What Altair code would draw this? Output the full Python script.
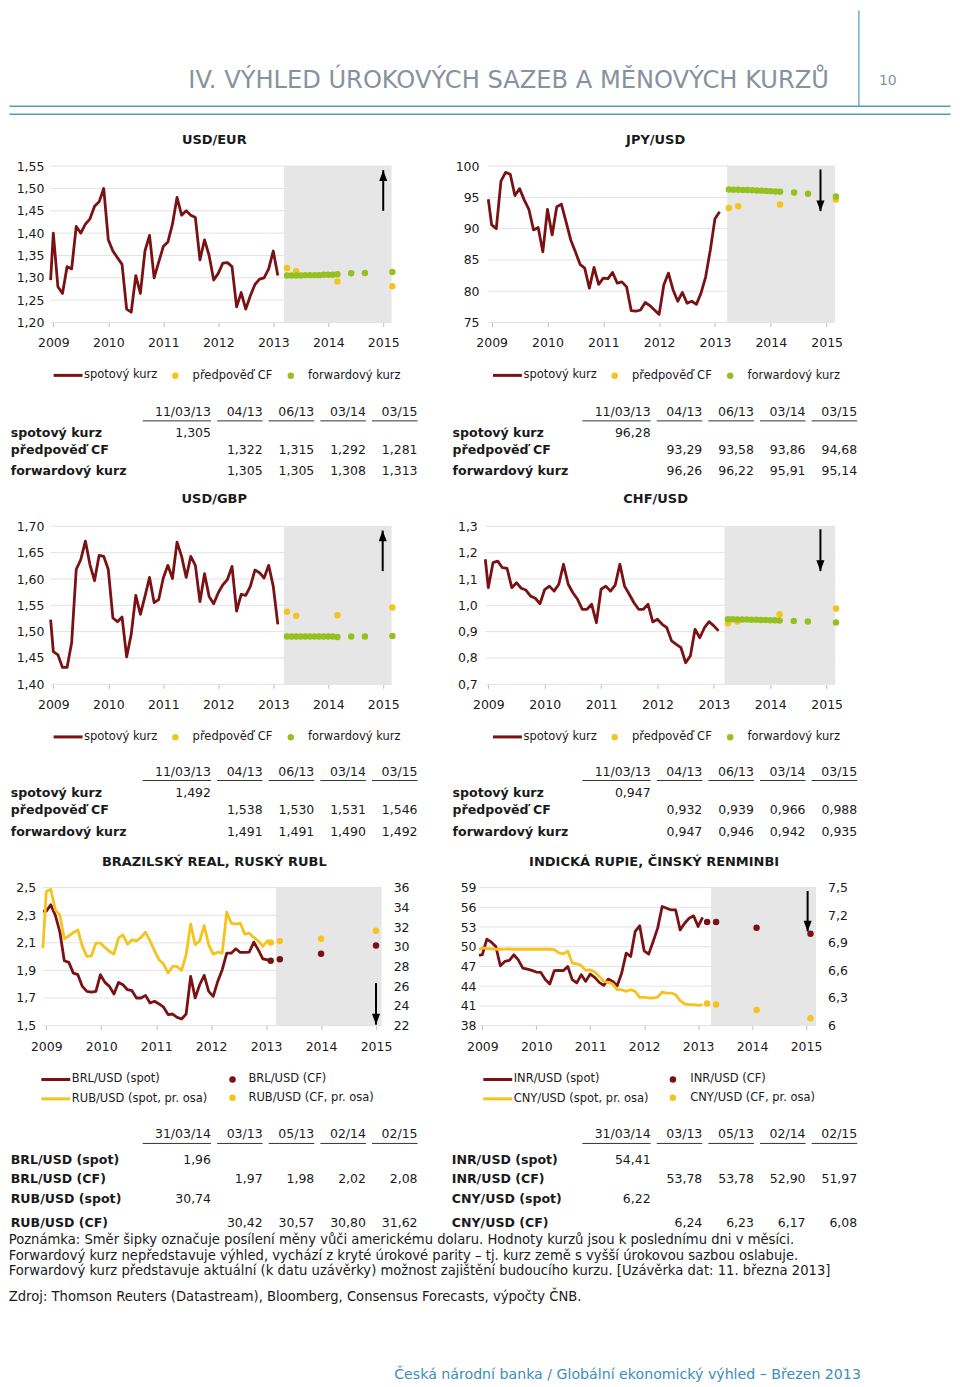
import altair as alt
import numpy as np
import pandas as pd

FONT = "DejaVu Sans"
RED, YEL, GRN = "#7a1214", "#f5c31c", "#94c11f"
BG, GRIDC, TICKC = "#e6e6e6", "#e2e2e2", "#bdbdbd"
TEAL, HEADC, INK = "#4f9bc4", "#86929e", "#1a1a1a"

YEARS = [2009, 2010, 2011, 2012, 2013, 2014, 2015]

# ---------------- data ----------------
EUR_SPOT = [1.295,
            1.40, 1.28, 1.265, 1.325, 1.32, 1.415, 1.40, 1.42, 1.432, 1.46, 1.47, 1.50,
            1.385, 1.36, 1.345, 1.33, 1.23, 1.223, 1.305, 1.265, 1.36, 1.395, 1.30, 1.335,
            1.37, 1.38, 1.42, 1.48, 1.44, 1.45, 1.44, 1.435, 1.34, 1.385, 1.35, 1.295,
            1.31, 1.333, 1.334, 1.325, 1.235, 1.267, 1.23, 1.26, 1.285, 1.297, 1.30, 1.32,
            1.36, 1.305]
EUR_CF = [1.322, 1.315, 1.292, 1.281]
EUR_FWD = [1.305, 1.305, 1.305, 1.305, 1.306, 1.306, 1.306, 1.306, 1.307, 1.307, 1.307, 1.308,
           1.310, 1.311, 1.313]
EUR_NOW = 1.305

JPY_SPOT = [94.7,
            90.6, 90.0, 97.6, 99.0, 98.7, 95.3, 96.4, 94.6, 93.1, 89.8, 90.2, 86.3,
            93.1, 89.0, 93.5, 93.9, 91.1, 88.2, 86.3, 84.3, 83.7, 80.5, 83.8, 81.1,
            82.1, 82.0, 83.0, 81.3, 81.5, 80.7, 76.9, 76.8, 77.0, 78.2, 77.7, 77.0,
            76.3, 81.0, 82.9, 80.2, 78.4, 79.8, 78.1, 78.4, 77.9, 79.7, 82.3, 86.6,
            91.6, 92.7]
JPY_CF = [93.29, 93.58, 93.86, 94.68]
JPY_FWD = [96.26, 96.24, 96.22, 96.20, 96.17, 96.14, 96.11, 96.08, 96.04, 96.00, 95.95, 95.91,
           95.80, 95.60, 95.14]
JPY_NOW = 96.28

GBP_SPOT = [1.523,
            1.462, 1.456, 1.432, 1.432, 1.479, 1.618, 1.637, 1.672, 1.627, 1.597, 1.645, 1.643,
            1.618, 1.526, 1.519, 1.528, 1.452, 1.495, 1.569, 1.533, 1.567, 1.603, 1.555, 1.561,
            1.602, 1.626, 1.601, 1.670, 1.643, 1.603, 1.643, 1.626, 1.557, 1.610, 1.567, 1.553,
            1.574, 1.589, 1.599, 1.624, 1.539, 1.571, 1.569, 1.586, 1.617, 1.612, 1.602, 1.626,
            1.586, 1.514]
GBP_CF = [1.538, 1.530, 1.531, 1.546]
GBP_FWD = [1.491, 1.491, 1.491, 1.491, 1.491, 1.491, 1.491, 1.491, 1.491, 1.491, 1.491, 1.490,
           1.491, 1.491, 1.492]
GBP_NOW = 1.492

CHF_SPOT = [1.175,
            1.067, 1.162, 1.168, 1.143, 1.140, 1.067, 1.086, 1.065, 1.058, 1.035, 1.027, 1.006,
            1.060, 1.073, 1.054, 1.080, 1.156, 1.080, 1.048, 1.023, 0.985, 0.985, 1.004, 0.934,
            1.061, 1.073, 1.054, 1.077, 1.156, 1.073, 1.042, 1.010, 0.985, 0.985, 1.004, 0.937,
            0.947, 0.928, 0.915, 0.865, 0.852, 0.839, 0.782, 0.808, 0.909, 0.877, 0.915, 0.938,
            0.922, 0.903]
CHF_CF = [0.932, 0.939, 0.966, 0.988]
CHF_FWD = [0.947, 0.947, 0.946, 0.946, 0.946, 0.945, 0.945, 0.944, 0.944, 0.943, 0.943, 0.942,
           0.941, 0.939, 0.935]
CHF_NOW = 0.947

BRL_SPOT = [2.33, 2.33, 2.375, 2.30, 2.18, 1.97, 1.958, 1.88, 1.869, 1.784, 1.748, 1.743, 1.748,
            1.869, 1.813, 1.784, 1.729, 1.813, 1.796, 1.76, 1.753, 1.70, 1.70, 1.719, 1.664,
            1.676, 1.657, 1.633, 1.580, 1.584, 1.560, 1.548, 1.584, 1.857, 1.70, 1.796, 1.864,
            1.748, 1.712, 1.820, 1.905, 2.025, 2.025, 2.057, 2.030, 2.030, 2.033, 2.105, 2.049,
            1.984, 1.977, 1.965]
RUB_SPOT = [29.86, 35.6, 35.83, 33.74, 33.23, 30.8, 31.1, 31.44, 31.71, 30.03, 29.02, 29.08, 30.37,
            30.37, 29.93, 29.52, 29.25, 30.87, 31.2, 30.26, 30.7, 30.6, 30.94, 31.48, 30.6,
            29.59, 28.68, 28.24, 27.33, 28.0, 28.0, 27.6, 29.19, 32.29, 30.2, 30.6, 32.15,
            30.2, 29.25, 29.45, 29.35, 33.5, 32.39, 32.29, 32.39, 31.28, 31.38, 30.94, 30.6,
            30.03, 30.6, 30.53]
BRL_CF = [1.97, 1.98, 2.02, 2.08]
RUB_CF = [30.42, 30.57, 30.80, 31.62]
BRL_NOW, RUB_NOW = 1.96, 30.74

INR_SPOT = [48.7, 48.8, 51.16, 50.7, 50.04, 47.1, 47.77, 47.92, 48.78, 48.0, 46.75, 46.6, 46.4,
            46.15, 46.1, 45.0, 44.32, 46.35, 46.4, 46.35, 47.0, 45.0, 44.5, 45.74, 44.73,
            45.84, 45.33, 44.58, 44.12, 45.08, 44.73, 44.07, 46.0, 49.03, 48.52, 52.32, 53.18,
            49.38, 48.88, 50.8, 52.83, 56.12, 55.86, 55.6, 55.6, 52.57, 53.58, 54.34, 54.7,
            53.08, 54.45]
CNY_SPOT = [6.824, 6.845, 6.838, 6.835, 6.83, 6.83, 6.832, 6.833, 6.83, 6.83, 6.83, 6.83, 6.83,
            6.83, 6.83, 6.83, 6.83, 6.826, 6.79, 6.78, 6.81, 6.68, 6.67, 6.655, 6.60,
            6.607, 6.582, 6.535, 6.481, 6.47, 6.452, 6.39, 6.39, 6.372, 6.39, 6.372, 6.307,
            6.31, 6.30, 6.30, 6.31, 6.365, 6.354, 6.354, 6.336, 6.271, 6.235, 6.228, 6.228,
            6.221, 6.228]
INR_CF = [53.78, 53.78, 52.90, 51.97]
CNY_CF = [6.24, 6.23, 6.17, 6.08]
INR_NOW, CNY_NOW = 54.41, 6.22

CF_MONTHS = ["04/13", "06/13", "03/14", "03/15"]
FWD_MONTHS = ["04/13", "05/13", "06/13", "07/13", "08/13", "09/13", "10/13", "11/13", "12/13",
              "01/14", "02/14", "03/14", "06/14", "09/14", "03/15"]
FWD_AT_CF = [0, 2, 11, 14]
EM_MONTHS = ["03/13", "05/13", "02/14", "02/15"]
HDR_A = ["11/03/13"] + CF_MONTHS
HDR_B = ["31/03/14"] + EM_MONTHS
NAMES_A = ["spotový kurz", "předpověď CF", "forwardový kurz"]
NAMES_BR = ["BRL/USD (spot)", "RUB/USD (spot, pr. osa)", "BRL/USD (CF)", "RUB/USD (CF, pr. osa)"]
NAMES_IN = ["INR/USD (spot)", "CNY/USD (spot, pr. osa)", "INR/USD (CF)", "CNY/USD (CF, pr. osa)"]
ROWS_BR = ["BRL/USD (spot)", "BRL/USD (CF)", "RUB/USD (spot)", "RUB/USD (CF)"]
ROWS_IN = ["INR/USD (spot)", "INR/USD (CF)", "CNY/USD (spot)", "CNY/USD (CF)"]

PAGE_TITLE = "IV. VÝHLED ÚROKOVÝCH SAZEB A MĚNOVÝCH KURZŮ"
PAGE_NO = "10"
NOTES = ["Poznámka: Směr šipky označuje posílení měny vůči americkému dolaru. Hodnoty kurzů jsou k poslednímu dni v měsíci.",
         "Forwardový kurz nepředstavuje výhled, vychází z kryté úrokové parity – tj. kurz země s vyšší úrokovou sazbou oslabuje.",
         "Forwardový kurz představuje aktuální (k datu uzávěrky) možnost zajištění budoucího kurzu. [Uzávěrka dat: 11. března 2013]"]
SOURCE = "Zdroj: Thomson Reuters (Datastream), Bloomberg, Consensus Forecasts, výpočty ČNB."
FOOTER = "Česká národní banka / Globální ekonomický výhled – Březen 2013"

UP = "M0,0L0.45,1.2L-0.45,1.2Z"
DOWN = "M0,0L0.45,-1.2L-0.45,-1.2Z"


def month_x(lbl, shift=0.0):
    m, y = lbl.split("/")
    return 2000 + int(y) + (int(m) - 1) / 12 + shift


def spot_x(n_vals, edge, last=None):
    n = n_vals - 1
    body = 2009 + np.arange(n) / 12 if last is None else np.linspace(2009.0, last, n)
    return np.concatenate([[edge], body])


def fmt(v, d):
    return f"{v:.{d}f}".replace(".", ",")


def encoders(xdom, ydom, yticks, yfmt, ypad, orient="left"):
    xs = alt.Scale(domain=xdom, nice=False, zero=False)
    ys = alt.Scale(domain=ydom, nice=False, zero=False)
    xax = alt.Axis(values=YEARS, format="d", title=None, grid=False, domain=False,
                   ticks=True, tickSize=4, tickColor=TICKC, tickWidth=1,
                   labelPadding=10.5, labelFlush=False, labelOverlap=False,
                   labelFont=FONT, labelFontSize=12.5, labelColor=INK)
    yax = alt.Axis(values=yticks, title=None, grid=False, domain=False, ticks=False, tickSize=0,
                   labelExpr=f"replace(format(datum.value, '{yfmt}'), '.', ',')",
                   labelPadding=ypad, labelFlush=False, labelOverlap=False, orient=orient,
                   labelFont=FONT, labelFontSize=12.5, labelColor=INK)

    def X(f):
        return alt.X(f, type="quantitative", scale=xs, axis=xax)

    def Y(f):
        return alt.Y(f, type="quantitative", scale=ys, axis=yax)
    return X, Y


def line_legend(lx, ly, direction="horizontal", rowpad=0):
    return alt.Legend(title=None, orient="none", legendX=lx, legendY=ly, direction=direction,
                      symbolType="stroke", symbolSize=841, symbolStrokeWidth=3,
                      labelFont=FONT, labelFontSize=11.5, labelColor=INK, labelOffset=0,
                      rowPadding=rowpad, columnPadding=0, padding=0, labelLimit=0)


def dot_legend(lx, ly, direction="horizontal", rowpad=0, colpad=11.7, loff=11.55):
    return alt.Legend(title=None, orient="none", legendX=lx, legendY=ly, direction=direction,
                      symbolType="circle", symbolSize=42, symbolStrokeWidth=0,
                      labelFont=FONT, labelFontSize=11.5, labelColor=INK, labelOffset=loff,
                      rowPadding=rowpad, columnPadding=colpad, padding=0, labelLimit=0)


def common_layers(L, X, Y, title):
    grid = alt.Chart(pd.DataFrame({"g": L["yticks"], "a": L["edge"], "b": L["xdom"][1]})).mark_rule(
        color=GRIDC, strokeWidth=1).encode(x=X("a"), x2=alt.X2("b"), y=Y("g"))
    bg = alt.Chart(pd.DataFrame({"a": [L["gray"]], "b": [L["xdom"][1]],
                                 "lo": [L["ydom"][0]], "hi": [L["ydom"][1]]})).mark_rect(
        color=BG).encode(x=X("a"), x2=alt.X2("b"), y=Y("lo"), y2=alt.Y2("hi"))
    ax, a0, a1, d = L["arrow"]
    adf = pd.DataFrame({"x": [ax], "y0": [a0], "y1": [a1]})
    arr = alt.Chart(adf).mark_rule(color="black", strokeWidth=2).encode(
        x=X("x"), y=Y("y0"), y2=alt.Y2("y1"))
    head = alt.Chart(adf).mark_point(shape=UP if d == "up" else DOWN, filled=True, color="black",
                                     size=324, opacity=1).encode(x=X("x"), y=Y("y1"))
    ttl = alt.Chart(pd.DataFrame({"t": [title]})).mark_text(
        font=FONT, fontSize=13, fontWeight="bold", color=INK, align="center", baseline="middle"
    ).encode(x=alt.value(L["tx"]), y=alt.value(L["ty"]), text="t:N")
    return grid, bg, arr, head, ttl


def fx_panel(title, spot, cf, fwd, L):
    X, Y = encoders(L["xdom"], L["ydom"], L["yticks"], L["yfmt"], L["ypad"])
    grid, bg, arr, head, ttl = common_layers(L, X, Y, title)
    sdf = pd.DataFrame({"x": spot_x(len(spot), L["edge"]), "y": spot, "s": NAMES_A[0]})
    line = alt.Chart(sdf).mark_line(strokeWidth=2.8, strokeJoin="round").encode(
        x=X("x"), y=Y("y"),
        color=alt.Color("s:N", scale=alt.Scale(domain=[NAMES_A[0]], range=[RED]),
                        legend=line_legend(L["llx"], L["lly"])))
    pdf = pd.concat([
        pd.DataFrame({"x": [month_x(m) for m in CF_MONTHS], "y": cf, "s": NAMES_A[1]}),
        pd.DataFrame({"x": [month_x(m) for m in FWD_MONTHS], "y": fwd, "s": NAMES_A[2]}),
    ], ignore_index=True)
    pts = alt.Chart(pdf).mark_circle(size=42, opacity=1).encode(
        x=X("x"), y=Y("y"),
        fill=alt.Fill("s:N", scale=alt.Scale(domain=NAMES_A[1:], range=[YEL, GRN]),
                      legend=dot_legend(L["dlx"], L["dly"])))
    return alt.layer(grid, bg, line, pts, arr, head, ttl).properties(width=L["W"], height=L["H"])


def dual_panel(title, lspot, rspot, lcf, rcf, names, L):
    X, Y = encoders(L["xdom"], L["ydom"], L["yticks"], L["yfmt"], L["ypad"])
    _, YR = encoders(L["xdom"], L["ydom_r"], L["yticks_r"], L["yfmt_r"], L["ypad_r"], "right")
    grid, bg, arr, head, ttl = common_layers(L, X, Y, title)
    xs = spot_x(len(lspot), L["edge"], L["last"])
    cfx = [month_x(m, L["shift"]) for m in EM_MONTHS]
    fscale = alt.Scale(domain=names[2:], range=[RED, YEL])
    fleg = dot_legend(L["dlx"], L["dly"], "vertical", L["drp"], 0, L["dlo"])
    lline = alt.Chart(pd.DataFrame({"x": xs, "y": lspot, "s": names[0]})).mark_line(
        strokeWidth=2.8, strokeJoin="round").encode(
        x=X("x"), y=Y("y"),
        color=alt.Color("s:N", scale=alt.Scale(domain=[names[0]], range=[RED]),
                        legend=line_legend(L["llx"], L["lly"])))
    lpts = alt.Chart(pd.DataFrame({"x": cfx, "y": lcf, "s": names[2]})).mark_circle(
        size=42, opacity=1).encode(x=X("x"), y=Y("y"),
                                   fill=alt.Fill("s:N", scale=fscale, legend=fleg))
    rline = alt.Chart(pd.DataFrame({"x": xs, "y": rspot, "s": names[1]})).mark_line(
        strokeWidth=2.8, strokeJoin="round").encode(
        x=X("x"), y=YR("y"),
        stroke=alt.Stroke("s:N", scale=alt.Scale(domain=[names[1]], range=[YEL]),
                          legend=line_legend(L["llx"], L["lly"] + L["lstep"])))
    rpts = alt.Chart(pd.DataFrame({"x": cfx, "y": rcf, "s": names[3]})).mark_circle(
        size=42, opacity=1).encode(x=X("x"), y=YR("y"),
                                   fill=alt.Fill("s:N", scale=fscale, legend=fleg))
    left = alt.layer(grid, bg, lline, lpts, arr, head, ttl)
    right = alt.layer(rline, rpts)
    return alt.layer(left, right).resolve_scale(y="independent").properties(
        width=L["W"], height=L["H"])


def table_chart(W, H, crange, label_x, header, hy, uy, rows, extra=None):
    step = (crange[1] - crange[0]) / 4
    CX = alt.X("c:Q", scale=alt.Scale(domain=[0, 4], range=crange, nice=False, zero=False), axis=None)
    hdf = pd.DataFrame({"c": list(range(5)), "t": header})
    layers = [alt.Chart(hdf).mark_text(align="right", baseline="middle", font=FONT, fontSize=12.5,
                                       color=INK).encode(x=CX, y=alt.value(hy), text="t:N")]
    udf = pd.DataFrame({"c": list(range(5)),
                        "cl": [c - (68.4 if c == 0 else 45.6) / step for c in range(5)]})
    layers.append(alt.Chart(udf).mark_rule(color="#333333", strokeWidth=1).encode(
        x=CX, x2=alt.X2("cl"), y=alt.value(uy)))
    for lab, cells, y in rows:
        layers.append(alt.Chart(pd.DataFrame({"t": [lab]})).mark_text(
            align="left", baseline="middle", font=FONT, fontSize=12.6, fontWeight="bold", color=INK
        ).encode(x=alt.value(label_x), y=alt.value(y), text="t:N"))
        cdf = pd.DataFrame({"c": [c for c, _ in cells], "t": [t for _, t in cells]})
        layers.append(alt.Chart(cdf).mark_text(
            align="right", baseline="middle", font=FONT, fontSize=12.5, color=INK
        ).encode(x=CX, y=alt.value(y), text="t:N"))
    if extra:
        layers.extend(extra)
    return alt.layer(*layers).properties(width=W, height=H)


def fx_rows(now, cf, fwd, d, ys):
    return [(NAMES_A[0], [(0, fmt(now, d))], ys[0]),
            (NAMES_A[1], [(i + 1, fmt(v, d)) for i, v in enumerate(cf)], ys[1]),
            (NAMES_A[2], [(i + 1, fmt(fwd[j], d)) for i, j in enumerate(FWD_AT_CF)], ys[2])]


def em_rows(labels, lnow, lcf, rnow, rcf, ys):
    return [(labels[0], [(0, fmt(lnow, 2))], ys[0]),
            (labels[1], [(i + 1, fmt(v, 2)) for i, v in enumerate(lcf)], ys[1]),
            (labels[2], [(0, fmt(rnow, 2))], ys[2]),
            (labels[3], [(i + 1, fmt(v, 2)) for i, v in enumerate(rcf)], ys[3])]


# ---------------- layout ----------------
L1 = dict(W=349.4, H=156.7, xdom=[2008.811, 2015.152], edge=2008.951, gray=2013.198,
          ydom=[1.20, 1.55], yticks=[1.20, 1.25, 1.30, 1.35, 1.40, 1.45, 1.50, 1.55], yfmt=".2f",
          ypad=-1, tx=171.7, ty=-26.3, arrow=(2015.0, 1.45, 1.541, "up"),
          llx=9.2, lly=193.7, dlx=126.95, dly=203.95)
L2 = dict(W=356.7, H=156.7, xdom=[2008.7735, 2015.149], edge=2008.94, gray=2013.219,
          ydom=[75, 100], yticks=[75, 80, 85, 90, 95, 100], yfmt=".0f",
          ypad=0, tx=177, ty=-26.3, arrow=(2014.89, 99.47, 92.8, "down"),
          llx=12.5, lly=193.7, dlx=130.25, dly=203.95)
L3 = dict(W=349.4, H=158.3, xdom=[2008.811, 2015.152], edge=2008.951, gray=2013.192,
          ydom=[1.40, 1.70], yticks=[1.40, 1.45, 1.50, 1.55, 1.60, 1.65, 1.70], yfmt=".2f",
          ypad=-1, tx=171.7, ty=-27, arrow=(2014.99, 1.615, 1.692, "up"),
          llx=9.2, lly=195.0, dlx=126.95, dly=205.25)
L4 = dict(W=357.0, H=158.3, xdom=[2008.835, 2015.153], edge=2008.947, gray=2013.189,
          ydom=[0.7, 1.3], yticks=[0.7, 0.8, 0.9, 1.0, 1.1, 1.2, 1.3], yfmt=".1f",
          ypad=1.7, tx=177, ty=-27, arrow=(2014.89, 1.289, 1.130, "down"),
          llx=12.5, lly=195.0, dlx=130.25, dly=205.25)
L5 = dict(W=339.4, H=138.3, xdom=[2008.939, 2015.102], edge=2008.939, gray=2013.177,
          ydom=[1.5, 2.5], yticks=[1.5, 1.7, 1.9, 2.1, 2.3, 2.5], yfmt=".1f", ypad=7.3,
          ydom_r=[22, 36], yticks_r=[22, 24, 26, 28, 30, 32, 34, 36], yfmt_r=".0f", ypad_r=11.6,
          tx=171.7, ty=-26, arrow=(2015.0, 1.808, 1.507, "down"), last=2013.105, shift=-1 / 12,
          llx=-3.1, lly=176.3, lstep=19.4, dlx=184.25, dly=186.55, drp=5.2, dlo=10.25)
L6 = dict(W=337.7, H=138.3, xdom=[2008.938, 2015.185], edge=2008.938, gray=2013.242,
          ydom=[38, 59], yticks=[38, 41, 44, 47, 50, 53, 56, 59], yfmt=".0f", ypad=3,
          ydom_r=[6.0, 7.5], yticks_r=[6.0, 6.3, 6.6, 6.9, 7.2, 7.5], yfmt_r=".1~f", ypad_r=11.6,
          tx=175.5, ty=-26, arrow=(2015.03, 58.49, 52.32, "down"), last=None, shift=0.0,
          llx=2.8, lly=176.3, lstep=19.4, dlx=188.55, dly=186.55, drp=5.2, dlo=11.65)

COLS_L = [168.4, 375.4]
COLS_R = [172.0, 379.0]

# ---------------- header ----------------
hdr_layers = [
    alt.Chart(pd.DataFrame({"t": [PAGE_TITLE]})).mark_text(
        font=FONT, fontSize=24.2, color=HEADC, align="right", baseline="middle"
    ).encode(x=alt.value(787.7), y=alt.value(72), text="t:N"),
    alt.Chart(pd.DataFrame({"t": [PAGE_NO]})).mark_text(
        font=FONT, fontSize=14, color=HEADC, align="center", baseline="middle"
    ).encode(x=alt.value(846.7), y=alt.value(72), text="t:N"),
    alt.Chart(pd.DataFrame({"k": [0]})).mark_rule(color=TEAL, strokeWidth=1.2).encode(
        x=alt.value(817.7), y=alt.value(1), y2=alt.value(97)),
    alt.Chart(pd.DataFrame({"k": [0]})).mark_rule(color=TEAL, strokeWidth=1.6).encode(
        x=alt.value(-33.5), x2=alt.value(909.5), y=alt.value(97)),
    alt.Chart(pd.DataFrame({"k": [0]})).mark_rule(color=TEAL, strokeWidth=1.6).encode(
        x=alt.value(-33.5), x2=alt.value(909.5), y=alt.value(105)),
]
header = alt.layer(*hdr_layers).properties(width=436.7, height=156.3)
blank = alt.Chart(pd.DataFrame({"t": [" "]})).mark_text(baseline="top", fontSize=2).encode(
    x=alt.value(5), y=alt.value(20), text="t:N").properties(width=10, height=10)

# ---------------- panels ----------------
c1 = fx_panel("USD/EUR", EUR_SPOT, EUR_CF, EUR_FWD, L1)
c2 = fx_panel("JPY/USD", JPY_SPOT, JPY_CF, JPY_FWD, L2)
c3 = fx_panel("USD/GBP", GBP_SPOT, GBP_CF, GBP_FWD, L3)
c4 = fx_panel("CHF/USD", CHF_SPOT, CHF_CF, CHF_FWD, L4)
c5 = dual_panel("BRAZILSKÝ REAL, RUSKÝ RUBL", BRL_SPOT, RUB_SPOT, BRL_CF, RUB_CF, NAMES_BR, L5)
c6 = dual_panel("INDICKÁ RUPIE, ČINSKÝ RENMINBI", INR_SPOT, CNY_SPOT, INR_CF, CNY_CF, NAMES_IN, L6)

YS_A = [110.7, 127.3, 149.0]
YS_B = [108.0, 124.8, 147.5]
YS_C = [134.0, 153.0, 173.4, 196.7]

t1 = table_chart(400, 204, COLS_L, -32.3, HDR_A, 89.7, 98.3, fx_rows(EUR_NOW, EUR_CF, EUR_FWD, 3, YS_A))
t2 = table_chart(400, 204, COLS_R, -26.5, HDR_A, 89.7, 98.3, fx_rows(JPY_NOW, JPY_CF, JPY_FWD, 2, YS_A))
t3 = table_chart(400, 202.7, COLS_L, -32.3, HDR_A, 87.0, 95.7, fx_rows(GBP_NOW, GBP_CF, GBP_FWD, 3, YS_B))
t4 = table_chart(400, 202.7, COLS_R, -26.5, HDR_A, 87.0, 95.7, fx_rows(CHF_NOW, CHF_CF, CHF_FWD, 3, YS_B))

notes_layers = []
for txt, y in zip(NOTES + [SOURCE], [213.7, 229.7, 245.7, 271.7]):
    notes_layers.append(alt.Chart(pd.DataFrame({"t": [txt]})).mark_text(
        font=FONT, fontSize=13.2, color=INK, align="left", baseline="middle"
    ).encode(x=alt.value(-34.3), y=alt.value(y), text="t:N"))
notes_layers.append(alt.Chart(pd.DataFrame({"t": [FOOTER]})).mark_text(
    font=FONT, fontSize=14.2, color="#3a8fb9", align="right", baseline="middle"
).encode(x=alt.value(819.7), y=alt.value(349.7), text="t:N"))

t5 = table_chart(400, 200, COLS_L, -32.3, HDR_B, 108.4, 117.4,
                 em_rows(ROWS_BR, BRL_NOW, BRL_CF, RUB_NOW, RUB_CF, YS_C), extra=notes_layers)
t6 = table_chart(400, 200, COLS_R, -27.3, HDR_B, 108.4, 117.4,
                 em_rows(ROWS_IN, INR_NOW, INR_CF, CNY_NOW, CNY_CF, YS_C))

page = alt.ConcatChart(
    concat=[header, blank, c1, c2, t1, t2, c3, c4, t3, t4, c5, c6, t5, t6],
    columns=2, spacing=0, bounds="flush", align="each",
).resolve_scale(color="independent", fill="independent", stroke="independent").resolve_legend(
    color="independent", fill="independent", stroke="independent"
).properties(padding=0, background="white").configure_view(strokeWidth=0)

page.save("out.html", embed_options={"renderer": "svg", "actions": False})
